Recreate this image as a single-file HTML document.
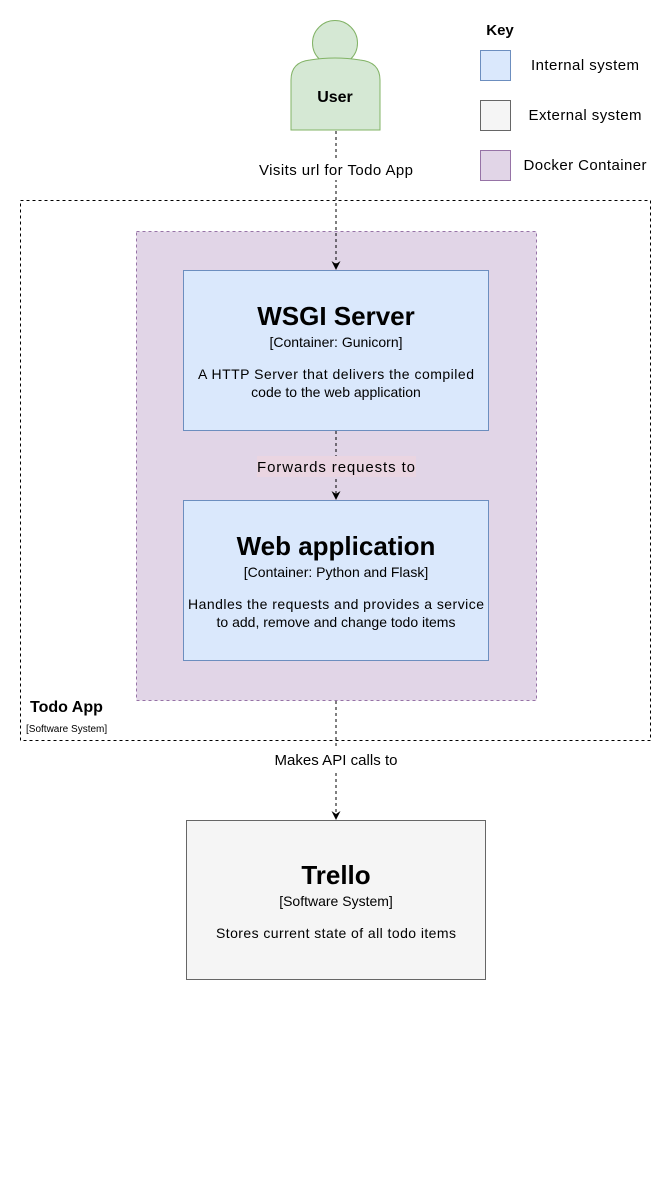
<!DOCTYPE html>
<html><head><meta charset="utf-8"><style>
html,body{margin:0;padding:0;background:#fff}
svg{display:block}
text{font-family:"Liberation Sans",Arial,sans-serif;fill:#000}
</style></head><body>
<svg width="671" height="1190" viewBox="0 0 671 1190" xmlns="http://www.w3.org/2000/svg">
<!-- user -->
<circle cx="335" cy="43" r="22.5" fill="#d5e8d4" stroke="#82b366"/>
<path d="M291,130 L291,80 Q291,62 310,60 Q335,56 360,60 Q380,62 380,80 L380,130 Z" fill="#d5e8d4" stroke="#82b366"/>
<text x="335" y="102" font-size="16" font-weight="bold" text-anchor="middle">User</text>
<!-- key -->
<text x="500" y="35" font-size="15" font-weight="bold" text-anchor="middle">Key</text>
<rect x="480.5" y="50.5" width="30" height="30" fill="#dae8fc" stroke="#6c8ebf"/>
<text x="585" y="70" font-size="15" text-anchor="middle" textLength="108">Internal system</text>
<rect x="480.5" y="100.5" width="30" height="30" fill="#f5f5f5" stroke="#666"/>
<text x="585" y="120" font-size="15" text-anchor="middle" textLength="113">External system</text>
<rect x="480.5" y="150.5" width="30" height="30" fill="#e1d5e7" stroke="#9673a6"/>
<text x="585" y="170" font-size="15" text-anchor="middle" textLength="123">Docker Container</text>
<!-- todo app -->
<rect x="20.5" y="200.5" width="630" height="540" fill="none" stroke="#000" stroke-dasharray="3,3"/>
<rect x="136.5" y="231.5" width="400" height="469" fill="#e1d5e7" stroke="#9673a6" stroke-dasharray="3,3"/>
<text x="30" y="712" font-size="16" font-weight="bold">Todo App</text>
<text x="26" y="732" font-size="10">[Software System]</text>
<!-- connectors -->
<line x1="336" y1="131" x2="336" y2="264" stroke="#000" stroke-dasharray="3,3"/>
<polygon points="331.5,261 336,270 340.5,261 336,264" fill="#000"/>
<rect x="257" y="158" width="158" height="22" fill="#fff"/>
<text x="336" y="175" font-size="15" text-anchor="middle" textLength="154">Visits url for Todo App</text>
<line x1="336" y1="431" x2="336" y2="494" stroke="#000" stroke-dasharray="3,3"/>
<polygon points="331.5,491 336,500 340.5,491 336,494" fill="#000"/>
<rect x="257" y="456" width="159" height="21" fill="#ead5e1"/>
<text x="336" y="472" font-size="15" text-anchor="middle" textLength="158">Forwards requests to</text>
<line x1="336" y1="701" x2="336" y2="814" stroke="#000" stroke-dasharray="3,3"/>
<polygon points="331.5,811 336,820 340.5,811 336,814" fill="#000"/>
<rect x="272" y="749" width="130" height="22" fill="#fff"/>
<text x="336" y="765" font-size="15" text-anchor="middle" textLength="123">Makes API calls to</text>
<!-- WSGI -->
<rect x="183.5" y="270.5" width="305" height="160" fill="#dae8fc" stroke="#6c8ebf"/>
<text x="336" y="325" font-size="26" font-weight="bold" text-anchor="middle">WSGI Server</text>
<text x="336" y="347" font-size="14" text-anchor="middle">[Container: Gunicorn]</text>
<text x="336" y="379" font-size="14" text-anchor="middle" textLength="276">A HTTP Server that delivers the compiled</text>
<text x="336" y="397" font-size="14" text-anchor="middle">code to the web application</text>
<!-- Web -->
<rect x="183.5" y="500.5" width="305" height="160" fill="#dae8fc" stroke="#6c8ebf"/>
<text x="336" y="555" font-size="26" font-weight="bold" text-anchor="middle">Web application</text>
<text x="336" y="577" font-size="14" text-anchor="middle">[Container: Python and Flask]</text>
<text x="336" y="609" font-size="14" text-anchor="middle" textLength="296">Handles the requests and provides a service</text>
<text x="336" y="627" font-size="14" text-anchor="middle">to add, remove and change todo items</text>
<!-- Trello -->
<rect x="186.5" y="820.5" width="299" height="159" fill="#f5f5f5" stroke="#666"/>
<text x="336" y="884" font-size="26" font-weight="bold" text-anchor="middle">Trello</text>
<text x="336" y="906" font-size="14" text-anchor="middle">[Software System]</text>
<text x="336" y="938" font-size="14" text-anchor="middle" textLength="240">Stores current state of all todo items</text>
</svg>
</body></html>
